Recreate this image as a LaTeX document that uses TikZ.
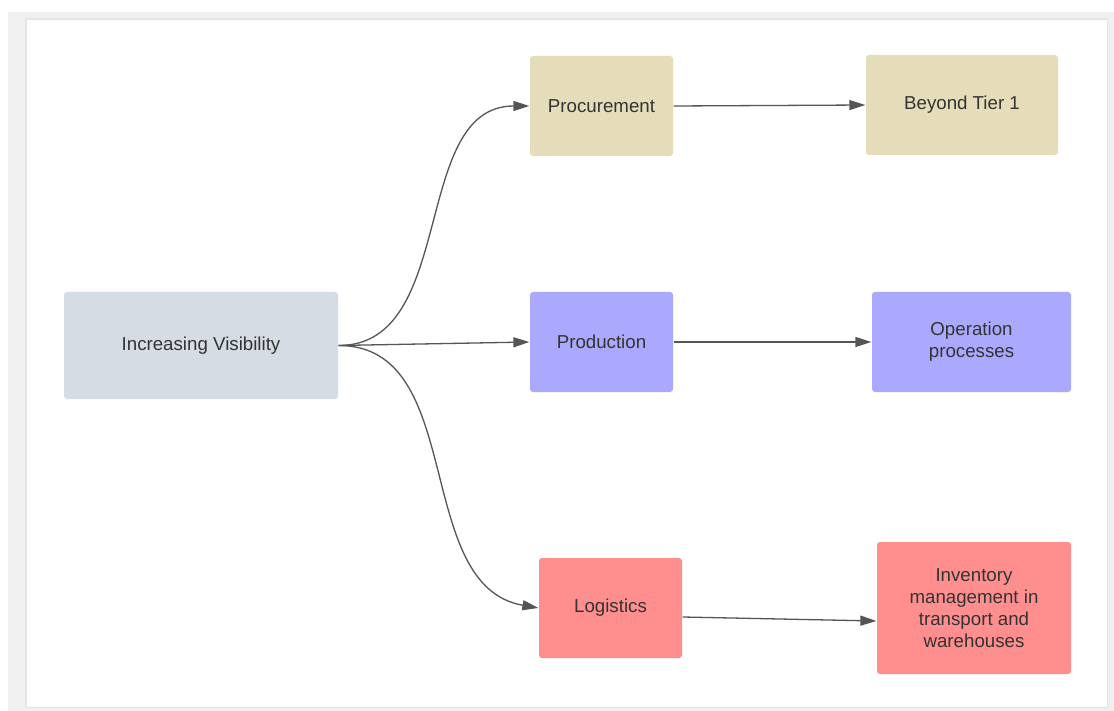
\documentclass[tikz,border=0pt]{standalone}
\usepackage{fontspec}
\setmainfont{Liberation Sans}
\usetikzlibrary{arrows.meta}

\definecolor{visgray}{HTML}{D6DCE4}
\definecolor{tan}{HTML}{E5DCBA}
\definecolor{lilac}{HTML}{ABA9FE}
\definecolor{salmon}{HTML}{FF8E8E}
\definecolor{txtgray}{HTML}{333333}
\definecolor{linegray}{HTML}{555555}

\begin{document}
\begin{tikzpicture}[x=1pt,y=-1pt,>={Stealth[length=16pt,width=10pt,inset=0pt]},line width=1.3pt,
  every node/.style={rounded corners=3pt,inner sep=0pt,align=center,text=txtgray,
    font=\fontsize{18.7}{22}\selectfont},
  box/.style={minimum width=143pt,minimum height=100pt}]
\useasboundingbox (0,0) rectangle (1114,711);
% page behind the canvas
\fill[white] (0,0) rectangle (1114,711);
\fill[black!6] (8,12) rectangle (1114,711);
\fill[black!10] (25,18) rectangle (1108,708);
\fill[white] (27,20) rectangle (1107,707);
\node[fill=visgray,minimum width=274pt,minimum height=107pt] (vis) at (201,345.5) {Increasing Visibility};
\node[box,fill=tan] (proc) at (601.5,106) {Procurement};
\node[box,fill=tan,minimum width=192pt] (beyond) at (962,105) {Beyond Tier 1};
\node[box,fill=lilac] (prod) at (601.5,342) {Production};
\node[box,fill=lilac,minimum width=199pt] (oper) at (971.5,342) {Operation\\processes};
\node[box,fill=salmon] (logi) at (610.5,608) {Logistics};
\node[box,fill=salmon,minimum width=194pt,minimum height=132pt] (inv) at (974,608) {Inventory\\management in\\transport and\\warehouses};
\draw[->,linegray] (vis.east) to[out=0,in=180] (proc.west);
\draw[->,linegray] (vis.east) to (prod.west);
\draw[->,linegray] (vis.east) to[out=0,in=170] (logi.west);
\draw[->,linegray] (proc.east) to (beyond.west);
\draw[->,linegray] (prod.east) to (oper.west);
\draw[->,linegray] ([yshift=-9pt]logi.east) to ([yshift=-13pt]inv.west);
\end{tikzpicture}
\end{document}
